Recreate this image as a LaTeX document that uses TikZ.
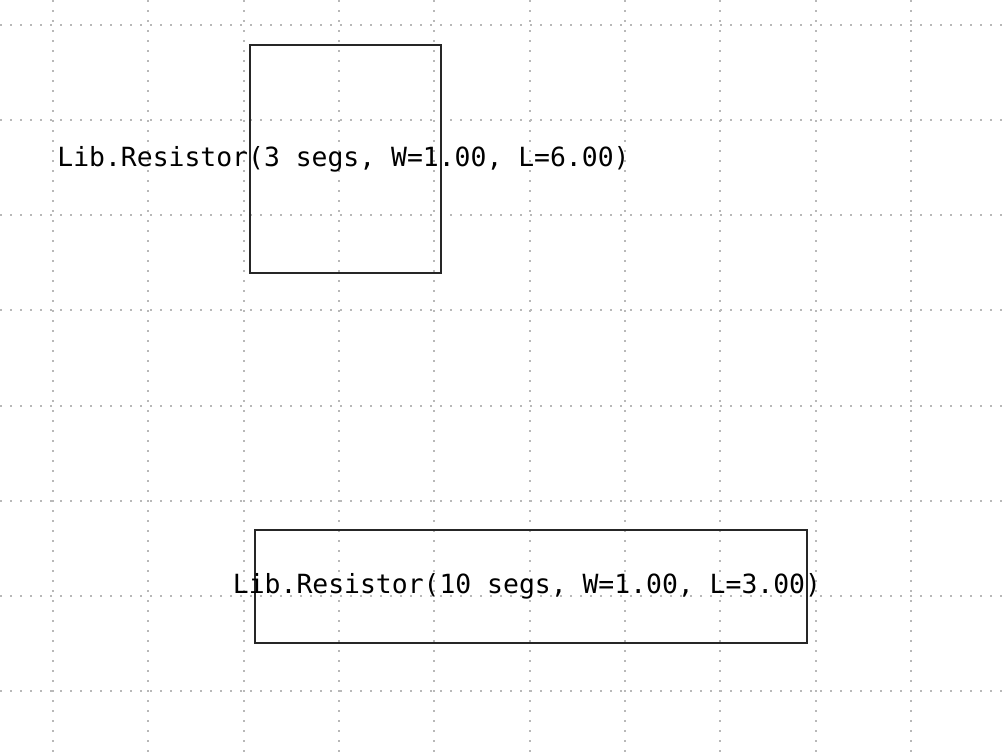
\documentclass[tikz,border=0pt]{standalone}
\usepackage{fontspec}
\setmonofont{DejaVu Sans Mono}

\begin{document}
\begin{tikzpicture}[x=0.5pt,y=-0.5pt,
    gridline/.style={draw=black!28, line width=1pt, dash pattern=on 1pt off 4pt},
    resbox/.style={draw=black!85, line width=1pt, inner sep=0pt},
    reslabel/.style={font=\ttfamily\fontsize{13.2}{15}\selectfont, inner sep=0pt}]
    \useasboundingbox (0,0) rectangle (1002,752);
    % background grid
    \foreach \gx in {0,...,9}
        \draw[gridline] ({53+95.33*\gx},0) -- ({53+95.33*\gx},752);
    \foreach \gy in {0,...,7}
        \draw[gridline] (0,{25+95.14*\gy}) -- (1002,{25+95.14*\gy});
    % resistors
    \node[resbox, minimum width=95.5pt, minimum height=114pt] (resA) at (345.5,159) {};
    \node[resbox, minimum width=276pt, minimum height=56.5pt] (resB) at (531,586.5) {};
    \node[reslabel] (labA) at ([xshift=-1pt]resA.center) {Lib.Resistor(3 segs, W=1.00, L=6.00)};
    \node[reslabel] (labB) at ([xshift=-2pt]resB.center) {Lib.Resistor(10 segs, W=1.00, L=3.00)};
\end{tikzpicture}
\end{document}
